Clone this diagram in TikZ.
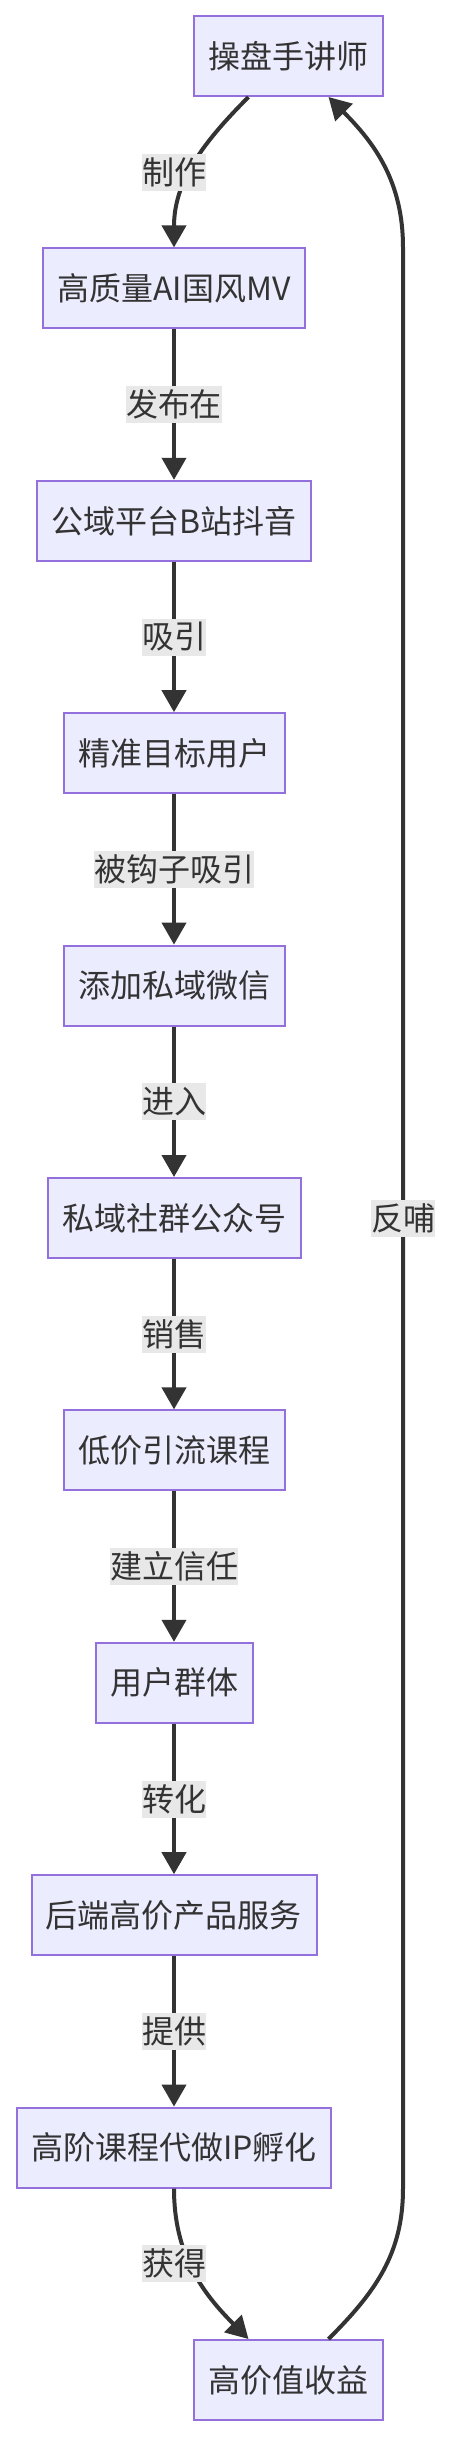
\documentclass[tikz,border=0pt]{standalone}
\usepackage{fontspec}
\setmainfont{Noto Sans CJK SC}
\usetikzlibrary{positioning, arrows.meta}
\definecolor{boxfill}{HTML}{ECECFF}
\definecolor{boxline}{HTML}{9370DB}
\definecolor{inkgray}{HTML}{333333}
\definecolor{lblfill}{HTML}{E8E8E8}
\tikzset{
  stepbox/.style={draw=boxline, fill=boxfill, line width=1pt, minimum height=40pt,
    inner xsep=7.25pt, text=inkgray, font=\fontsize{16pt}{19pt}\selectfont},
  flow/.style={draw=inkgray, line width=2pt, -{Triangle[length=11pt,width=12pt]}},
  edgelbl/.style={fill=lblfill, inner xsep=0pt, inner ysep=0pt, minimum height=18.5pt,
    text=inkgray, font=\fontsize{16pt}{19pt}\selectfont},
}

\begin{document}
\begin{tikzpicture}[node distance=75.2pt]
                \useasboundingbox (0,0) rectangle (226pt,-1219pt);
                % Nodes
                \node[stepbox] (Trader) at (144.25pt,-28pt) {操盘手讲师};
                \node[stepbox, below=of Trader, xshift=-57.25pt] (AIMV) {高质量AI国风MV};
                \node[stepbox, below=of AIMV] (Platform) {公域平台B站抖音};
                \node[stepbox, below=of Platform] (Target) {精准目标用户};
                \node[stepbox, below=of Target] (WeChat) {添加私域微信};
                \node[stepbox, below=of WeChat] (Community) {私域社群公众号};
                \node[stepbox, below=of Community] (LowCourse) {低价引流课程};
                \node[stepbox, below=of LowCourse] (UserGroup) {用户群体};
                \node[stepbox, below=of UserGroup] (Backend) {后端高价产品服务};
                \node[stepbox, below=of Backend] (Incubate) {高阶课程代做IP孵化};
                \node[stepbox, below=of Incubate, xshift=57.25pt] (Revenue) {高价值收益};

                % Feedback line
                \coordinate (FeedX) at ([xshift=57.25pt]Trader.center);
                \coordinate (FeedTop) at (FeedX |- AIMV.north);
                \coordinate (FeedBot) at (FeedX |- Incubate.south);

                % Arrows
                \draw[flow] ([xshift=-20pt]Trader.south) to[out=-135,in=90] (AIMV.north);
                \node[edgelbl] (MakeLbl) at ([yshift=37.6pt]AIMV.north) {制作};

                \draw[flow] (AIMV) -- node[edgelbl] {发布在} (Platform);
                \draw[flow] (Platform) -- node[edgelbl] {吸引} (Target);
                \draw[flow] (Target) -- node[edgelbl] {被钩子吸引} (WeChat);
                \draw[flow] (WeChat) -- node[edgelbl] {进入} (Community);
                \draw[flow] (Community) -- node[edgelbl] {销售} (LowCourse);
                \draw[flow] (LowCourse) -- node[edgelbl] {建立信任} (UserGroup);
                \draw[flow] (UserGroup) -- node[edgelbl] {转化} (Backend);
                \draw[flow] (Backend) -- node[edgelbl] {提供} (Incubate);

                \draw[flow] (Incubate.south) to[out=-90,in=135] ([xshift=-20pt]Revenue.north);
                \node[edgelbl] (GainLbl) at ([yshift=-37.6pt]Incubate.south) {获得};

                \draw[flow] ([xshift=20pt]Revenue.north) to[out=45,in=-90] (FeedBot)
                  -- node[edgelbl] {反哺} (FeedTop) to[out=90,in=-45] ([xshift=20pt]Trader.south);
              \end{tikzpicture}
\end{document}
